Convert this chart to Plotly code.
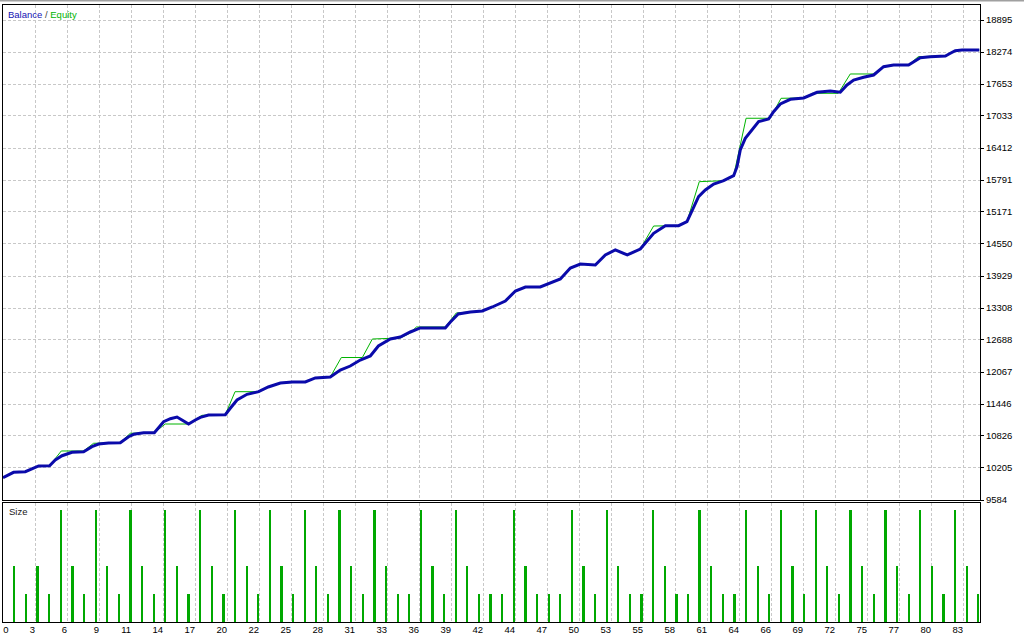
import plotly.graph_objects as go

# ---------------- data ----------------
# Balance curve: trade position (fractional) and value
bal_t = [0.00, 0.91, 1.92, 2.63, 3.07, 4.01, 4.50, 5.08, 5.94, 6.94, 7.66, 8.23, 9.09, 10.10,
         10.81, 11.25, 12.11, 13.03, 13.83, 14.41, 14.98, 15.41, 15.98, 16.56, 16.99, 17.70,
         19.14, 19.57, 20.15, 21.01, 22.01, 22.84, 23.88, 24.91, 26.03, 26.89, 28.18, 29.04,
         29.90, 30.76, 31.63, 32.32, 33.35, 34.21, 35.07, 35.93, 38.08, 38.52, 39.20, 40.24,
         41.27, 42.13, 43.25, 44.12, 44.98, 46.26, 47.12, 47.99, 48.85, 49.71, 51.00, 51.86,
         52.72, 53.75, 54.87, 55.59, 56.02, 57.03, 58.17, 58.89, 59.33, 59.89, 60.47, 61.19,
         62.05, 62.91, 63.20, 63.48, 63.91, 64.49, 65.06, 65.92, 66.35, 66.93, 67.79, 68.94,
         69.51, 70.09, 71.23, 72.09, 72.67, 73.24, 74.10, 74.96, 75.82, 76.68, 77.97, 78.55,
         78.98, 79.84, 81.14, 81.57, 81.99, 82.57, 84.06]
bal_v = [10017, 10121, 10133, 10211, 10244, 10249, 10360, 10443, 10509, 10521, 10618, 10670,
         10690, 10695, 10812, 10859, 10890, 10890, 11103, 11161, 11194, 11136, 11058, 11136,
         11188, 11233, 11239, 11363, 11524, 11634, 11685, 11776, 11854, 11873, 11873, 11951,
         11970, 12106, 12183, 12300, 12377, 12571, 12707, 12746, 12843, 12921, 12921, 13037,
         13192, 13231, 13250, 13328, 13444, 13638, 13716, 13716, 13793, 13871, 14084, 14162,
         14142, 14337, 14434, 14337, 14453, 14647, 14757, 14905, 14905, 14983, 15210, 15468,
         15597, 15714, 15778, 15875, 16050, 16374, 16600, 16775, 16923, 16975, 17117, 17266,
         17357, 17383, 17441, 17493, 17518, 17493, 17635, 17731, 17784, 17828, 17990, 18022,
         18022, 18106, 18164, 18184, 18197, 18249, 18300, 18313, 18313]

# Equity curve: vertices
eq_t = [0.00, 0.91, 1.92, 2.63, 3.07, 4.01, 5.02, 6.94, 7.80, 10.10, 10.96, 13.03, 13.97,
        15.98, 16.56, 17.13, 19.14, 19.98, 22.01, 22.84, 23.88, 26.03, 26.89, 28.18, 29.13,
        30.94, 31.80, 34.21, 35.07, 35.59, 38.08, 39.03, 41.27, 42.13, 43.25, 44.12, 44.98,
        46.26, 47.12, 47.99, 48.85, 49.71, 51.00, 51.86, 52.72, 53.75, 54.87, 56.02, 58.17,
        58.89, 59.95, 62.05, 62.91, 63.98, 66.06, 66.99, 68.94, 69.69, 71.92, 72.95, 74.96,
        75.82, 76.68, 77.97, 78.81, 79.84, 81.14, 81.57, 81.99, 84.06]
eq_v = [10017, 10121, 10133, 10211, 10244, 10249, 10535, 10535, 10684, 10695, 10878, 10890,
        11058, 11058, 11136, 11227, 11239, 11685, 11685, 11776, 11854, 11873, 11951, 11970,
        12348, 12348, 12707, 12727, 12824, 12940, 12940, 13212, 13250, 13328, 13444, 13638,
        13716, 13716, 13793, 13871, 14084, 14162, 14142, 14337, 14434, 14337, 14453, 14899,
        14905, 14983, 15759, 15778, 15875, 16989, 16989, 17376, 17383, 17473, 17473, 17848,
        17848, 17990, 18022, 18022, 18184, 18184, 18197, 18249, 18300, 18313]

# Position size per trade
size_codes = ("MSMSTMSTMSTMSTMSTMSTM"
              "STMSTMSTMSTMSSTMSTMSSSTMSS"
              "STMSTMSSTMSSTMSSTMSTM"
              "STMSTMSTMSTMSTMS")
lot_of = {"T": 0.04, "M": 0.02, "S": 0.01}
size_trade = list(range(1, len(size_codes) + 1))
size_lots = [lot_of[c] for c in size_codes]

y_tick_labels = ["9584", "10205", "10826", "11446", "12067", "12688", "13308", "13929",
                 "14550", "15171", "15791", "16412", "17033", "17653", "18274", "18895"]
x_tick_labels = ["0", "3", "6", "9", "11", "14", "17", "20", "22", "25", "28", "31", "33",
                 "36", "39", "42", "44", "47", "50", "53", "55", "58", "61", "64", "66",
                 "69", "72", "75", "77", "80", "83"]

# ---------------- layout constants ----------------
W, H = 1024, 640
ML, MR, MT, MB = 3, 44, 5, 18
X_MAX = 84.12
PX_PER_TRADE = (W - ML - MR) / X_MAX
GRID_STEP = 32 / PX_PER_TRADE
plot_h = H - MT - MB
top_dom = [(plot_h - 495) / plot_h, 1.0]
bot_dom = [0.0, (plot_h - 498) / plot_h]

y_vals = [float(v) for v in y_tick_labels]
y_step = (y_vals[-1] - y_vals[0]) / (len(y_vals) - 1)
Y_MIN = y_vals[0]
Y_MAX = Y_MIN + 495 / 32 * y_step

grid_x = [n * GRID_STEP for n in range(1, len(x_tick_labels))]
label_x = [0.47] + grid_x

GRID = "#c8c8c8"
FONT = "Liberation Sans, Arial, sans-serif"

fig = go.Figure()
fig.add_trace(go.Scatter(x=eq_t, y=eq_v, mode="lines", line=dict(color="#00b400", width=1),
                         xaxis="x", yaxis="y", hoverinfo="skip", showlegend=False))
fig.add_trace(go.Scatter(x=bal_t, y=bal_v, mode="lines", line=dict(color="#0a0aaa", width=3),
                         xaxis="x", yaxis="y", hoverinfo="skip", showlegend=False))
fig.add_trace(go.Bar(x=size_trade, y=size_lots, width=0.15, marker=dict(color="#00a800", line=dict(width=0)),
                     xaxis="x2", yaxis="y2", hoverinfo="skip", showlegend=False))
fig.add_trace(go.Scatter(x=[None], y=[None], xaxis="x3", yaxis="y2", showlegend=False,
                         hoverinfo="skip"))

common_line = dict(showline=True, linecolor="black", linewidth=1, mirror=True, zeroline=False)

fig.update_layout(
    width=W, height=H,
    margin=dict(l=ML, r=MR, t=MT, b=MB, pad=0),
    paper_bgcolor="white", plot_bgcolor="white",
    font=dict(family=FONT, size=9, color="black"),
    bargap=0,
    xaxis=dict(domain=[0, 1], anchor="y", range=[0, X_MAX], tickmode="array", tickvals=grid_x,
               showticklabels=False, ticks="", showgrid=True, gridcolor=GRID, griddash="3px,2px",
               gridwidth=1, **common_line),
    yaxis=dict(domain=top_dom, anchor="x", side="right", range=[Y_MIN, Y_MAX], tickmode="array",
               tickvals=y_vals, ticktext=y_tick_labels, ticks="outside", ticklen=3, tickcolor="black",
               showgrid=True, gridcolor=GRID, griddash="3px,2px", gridwidth=1,
               tickfont=dict(family=FONT, size=9.5, color="black"), **common_line),
    xaxis2=dict(domain=[0, 1], anchor="y2", range=[0, X_MAX], tickmode="array", tickvals=grid_x,
                showticklabels=False, ticks="", showgrid=True, gridcolor=GRID, griddash="3px,2px",
                gridwidth=1, **common_line),
    xaxis3=dict(overlaying="x2", anchor="y2", side="bottom", range=[0, X_MAX], tickmode="array",
                tickvals=label_x, ticktext=x_tick_labels, ticks="", showgrid=False, showline=False,
                zeroline=False, ticklabelposition="outside left",
                tickfont=dict(family=FONT, size=9.5, color="black")),
    yaxis2=dict(domain=bot_dom, anchor="x2", range=[0, 0.0425], showticklabels=False, ticks="",
                showgrid=False, **common_line),
    annotations=[
        dict(xref="paper", yref="paper", x=3 / (W - ML - MR), y=(plot_h - 9) / plot_h,
             xanchor="left", yanchor="middle", showarrow=False,
             text="<span style='color:#1414b4'>Balance</span> <span style='color:#404040'>/</span> "
                  "<span style='color:#00b400'>Equity</span>",
             font=dict(family=FONT, size=9.5)),
        dict(xref="paper", yref="paper", x=4 / (W - ML - MR), y=(plot_h - 506) / plot_h,
             xanchor="left", yanchor="middle", showarrow=False, text="Size",
             font=dict(family=FONT, size=9.5, color="#202020")),
    ],
    shapes=[
        dict(type="line", xref="paper", yref="paper", x0=-0.01, x1=1.05,
             y0=(plot_h + 4.5) / plot_h, y1=(plot_h + 4.5) / plot_h,
             line=dict(color="#a0a0a0", width=2)),
    ],
)

fig.write_html("out.html",
               config={"displayModeBar": False},
               post_script="document.body.style.margin='0px';document.body.style.overflow='hidden';")
